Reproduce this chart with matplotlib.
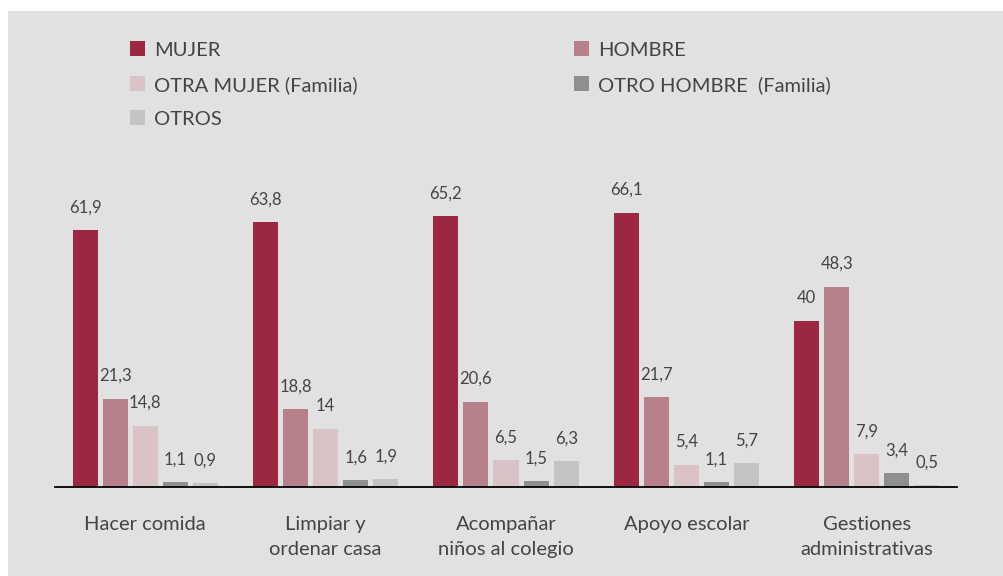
import matplotlib
matplotlib.use("Agg")
import matplotlib.pyplot as plt
from matplotlib.patches import Rectangle
import numpy as np

categories = ["Hacer comida", "Limpiar y\nordenar casa", "Acompañar\nniños al colegio",
              "Apoyo escolar", "Gestiones\nadministrativas"]
series_names = ["MUJER", "HOMBRE", "OTRA MUJER (Familia)", "OTRO HOMBRE  (Familia)", "OTROS"]
mujer = [61.9, 63.8, 65.2, 66.1, 40]
hombre = [21.3, 18.8, 20.6, 21.7, 48.3]
otra_mujer = [14.8, 14, 6.5, 5.4, 7.9]
otro_hombre = [1.1, 1.6, 1.5, 1.1, 3.4]
otros = [0.9, 1.9, 6.3, 5.7, 0.5]
series = [mujer, hombre, otra_mujer, otro_hombre, otros]
colors = ["#9c2741", "#b5808a", "#d9c3c6", "#8f8f8f", "#c4c4c4"]

plt.rcParams['font.family'] = ['Lato', 'DejaVu Sans']
txt_color = "#444444"
W, H = 1004, 576
fig = plt.figure(figsize=(W / 100, H / 100), dpi=100)
fig.patch.set_facecolor("white")
fig.patches.append(Rectangle((8 / W, 0), 1 - 8 / W, 1 - 11 / H, transform=fig.transFigure,
                             facecolor="#e1e1e1", edgecolor="none", zorder=-10))

ax_left, ax_right = 55 / W, 957 / W
ax_bottom, ax_top = (H - 487) / H, (H - 140) / H
ax = fig.add_axes([ax_left, ax_bottom, ax_right - ax_left, ax_top - ax_bottom])
ax.set_facecolor("none")

x = np.arange(len(categories))
step = 30 / 180
width = 25 / 180
for i, (vals, c) in enumerate(zip(series, colors)):
    pos = x + (i - 2) * step
    ax.bar(pos, vals, width=width, color=c, zorder=2)
    for p, v in zip(pos, vals):
        lab = ("%g" % v).replace(".", ",")
        ax.annotate(lab, (p, v), xytext=(0, 10.5), textcoords="offset points",
                    ha="center", va="bottom", fontsize=12, color=txt_color)

ax.set_xlim(-0.5, 4.5)
ax.set_ylim(0, 347 / 4.15)
for s in ["top", "right", "left"]:
    ax.spines[s].set_visible(False)
ax.spines["bottom"].set_color("black")
ax.spines["bottom"].set_linewidth(1.3)
ax.set_yticks([])
ax.set_xticks(x)
ax.set_xticklabels(categories, fontsize=14.5, color=txt_color, linespacing=1.55)
ax.tick_params(axis="x", length=0, pad=21)

# legend (row-wise layout)
leg_pos = [(130, 41), (574, 41), (130, 76), (574, 76), (130, 110)]
for name, c, (lx, ly) in zip(series_names, colors, leg_pos):
    fig.patches.append(Rectangle((lx / W, 1 - (ly + 15) / H), 15 / W, 15 / H,
                                 transform=fig.transFigure, facecolor=c, edgecolor="none"))
    fig.text((lx + 24) / W, 1 - (ly + 9.5) / H, name, fontsize=14.5, color=txt_color,
             va="center", ha="left")

fig.savefig("out.png", dpi=100)
